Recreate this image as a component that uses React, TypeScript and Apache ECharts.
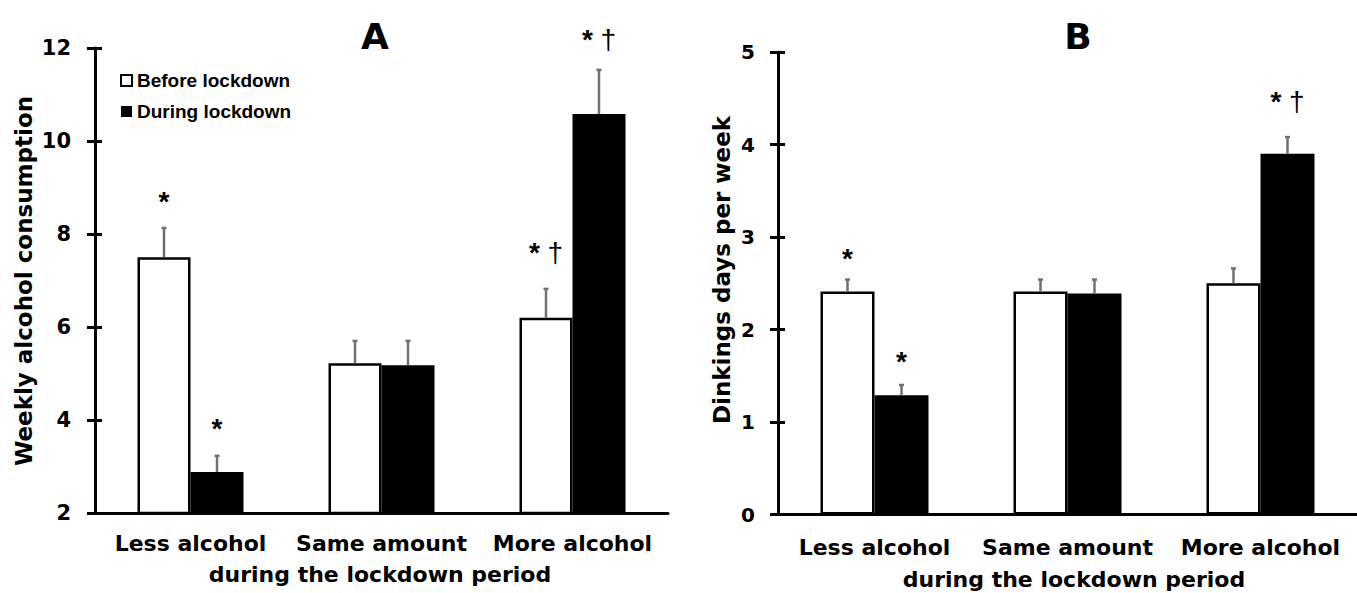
import React, { useEffect, useRef } from 'react';
import * as echarts from 'echarts';

const categories = ['Less alcohol', 'Same amount', 'More alcohol'];
const seriesNames = ['Before lockdown', 'During lockdown'];

// Panel A: weekly alcohol consumption
const weeklyBefore = [7.5, 5.22, 6.2];
const weeklyDuring = [2.88, 5.18, 10.58];
const weeklyBeforeErrTop = [8.13, 5.7, 6.82];
const weeklyDuringErrTop = [3.23, 5.7, 11.53];
const weeklyMin = 2;
const weeklyMax = 12;
const weeklyStep = 2;
// significance marks: [category index, series (0 before / 1 during), value at text baseline, text]
const weeklyMarks: [number, number, number, string][] = [
  [0, 0, 8.49, '*'],
  [0, 1, 3.61, '*'],
  [2, 0, 7.4, '*†'],
  [2, 1, 11.98, '*†'],
];

// Panel B: drinking days per week
const daysBefore = [2.41, 2.41, 2.5];
const daysDuring = [1.29, 2.39, 3.9];
const daysBeforeErrTop = [2.54, 2.54, 2.66];
const daysDuringErrTop = [1.4, 2.54, 4.08];
const daysMin = 0;
const daysMax = 5;
const daysStep = 1;
const daysMarks: [number, number, number, string][] = [
  [0, 0, 2.66, '*'],
  [0, 1, 1.55, '*'],
  [2, 1, 4.36, '*†'],
];

const FONT = 'DejaVu Sans';
const ARIAL = 'Liberation Sans';

function errorSeries(axis: number, values: number[], tops: number[], side: number, half: number) {
  return {
    type: 'custom',
    xAxisIndex: axis,
    yAxisIndex: axis * 2,
    z: 5,
    silent: true,
    data: values.map((v, i) => [i, v, tops[i]]),
    renderItem: (params: any, api: any) => {
      const base = api.coord([api.value(0), api.value(1)]);
      const top = api.coord([api.value(0), api.value(2)]);
      const x = base[0] + side * half;
      const st = { stroke: '#707070', lineWidth: 2.5 };
      return {
        type: 'group',
        children: [
          { type: 'line', shape: { x1: x, y1: base[1], x2: x, y2: top[1] }, style: st },
          { type: 'line', shape: { x1: x - 2.5, y1: top[1], x2: x + 2.5, y2: top[1] }, style: st },
        ],
      };
    },
  };
}

function markSeries(axis: number, marks: [number, number, number, string][], half: number) {
  const fs = 28;
  return {
    type: 'custom',
    xAxisIndex: axis,
    yAxisIndex: axis * 2,
    z: 6,
    silent: true,
    clip: false,
    data: marks.map((m) => [m[0], m[2], m[1]]),
    renderItem: (params: any, api: any) => {
      const p = api.coord([api.value(0), api.value(1)]);
      const side = api.value(2) === 0 ? -1 : 1;
      const m = marks[params.dataIndex];
      const parts = m[3].split('');
      const text = parts.map((c) => (c === '*' ? '{s|*}' : ' {d|' + c + '}')).join('');
      return {
        type: 'text',
        x: p[0] + side * half,
        y: p[1] - 0.35 * fs,
        style: {
          text,
          fontFamily: ARIAL,
          fontSize: fs,
          fill: '#000',
          align: 'center',
          verticalAlign: 'middle',
          rich: {
            s: { fontFamily: ARIAL, fontSize: fs, fontWeight: 'bold', fill: '#000' },
            d: { fontFamily: ARIAL, fontSize: fs, fontWeight: 'normal', fill: '#000' },
          },
        },
      };
    },
  };
}

function valueAxes(grid: number, min: number, max: number, step: number, fontSize: number, margin: number) {
  return [
    {
      type: 'value',
      gridIndex: grid,
      position: 'left',
      min,
      max,
      interval: step,
      axisLine: { show: true, lineStyle: { color: '#000', width: 3 } },
      axisTick: { show: true, length: 8, lineStyle: { color: '#000', width: 3 } },
      axisLabel: { margin, fontFamily: FONT, fontWeight: 'bold', fontSize, color: '#000' },
      splitLine: { show: false },
    },
    {
      type: 'value',
      gridIndex: grid,
      position: 'left',
      min,
      max,
      interval: step,
      axisLine: { show: false },
      axisTick: { show: true, inside: true, length: 7, lineStyle: { color: '#000', width: 3 } },
      axisLabel: { show: false },
      splitLine: { show: false },
    },
  ];
}

function catAxis(grid: number, margin: number) {
  return {
    type: 'category',
    gridIndex: grid,
    data: categories,
    axisLine: { show: true, lineStyle: { color: '#000', width: 3 } },
    axisTick: { show: false },
    axisLabel: { margin, fontFamily: FONT, fontWeight: 'bold', fontSize: 22, color: '#000', interval: 0 },
  };
}

function barSeries(axis: number, name: string, data: number[], dark: boolean, width: number) {
  return {
    type: 'bar',
    name,
    xAxisIndex: axis,
    yAxisIndex: axis * 2,
    data,
    barWidth: width,
    barGap: '0%',
    z: 2,
    itemStyle: dark
      ? { color: '#000', borderColor: '#000', borderWidth: 0 }
      : { color: '#fff', borderColor: '#000', borderWidth: 2.5 },
  };
}

function bigText(text: string, x: number, y: number, size: number, rotation = 0) {
  return {
    type: 'text',
    x,
    y,
    rotation,
    style: {
      text,
      fontFamily: FONT,
      fontWeight: 'bold',
      fontSize: size,
      fill: '#000',
      align: 'center',
      verticalAlign: 'middle',
    },
  };
}

export default function App() {
  const ref = useRef<HTMLDivElement>(null);
  useEffect(() => {
    if (!ref.current) return;
    const chart = echarts.init(ref.current, undefined, { renderer: 'svg' });
    const wA = 53;
    const wB = 54;
    chart.setOption({
      animation: false,
      backgroundColor: '#fff',
      grid: [
        { left: 95, top: 48, width: 573, height: 465 },
        { left: 778, top: 52, width: 590, height: 462.5 },
      ],
      xAxis: [catAxis(0, 19), catAxis(1, 22)],
      yAxis: [
        ...valueAxes(0, weeklyMin, weeklyMax, weeklyStep, 21, 24),
        ...valueAxes(1, daysMin, daysMax, daysStep, 20, 23),
      ],
      legend: {
        data: seriesNames.map((n) => ({ name: n, icon: 'rect' })),
        left: 115,
        top: 66,
        orient: 'vertical',
        itemWidth: 11,
        itemHeight: 11,
        itemGap: 12,
        selectedMode: false,
        textStyle: { fontFamily: ARIAL, fontWeight: 'bold', fontSize: 19, color: '#000' },
      },
      graphic: [
        bigText('A', 375, 36, 36),
        bigText('B', 1078, 36, 36),
        bigText('Weekly alcohol consumption', 24, 281, 23, Math.PI / 2),
        bigText('Dinkings days per week', 722, 270, 23, Math.PI / 2),
        bigText('during the lockdown period', 380, 574, 22),
        bigText('during the lockdown period', 1074, 579, 22),
      ],
      series: [
        barSeries(0, seriesNames[0], weeklyBefore, false, wA),
        barSeries(0, seriesNames[1], weeklyDuring, true, wA),
        errorSeries(0, weeklyBefore, weeklyBeforeErrTop, -1, wA / 2),
        errorSeries(0, weeklyDuring, weeklyDuringErrTop, 1, wA / 2),
        markSeries(0, weeklyMarks, wA / 2),
        barSeries(1, seriesNames[0], daysBefore, false, wB),
        barSeries(1, seriesNames[1], daysDuring, true, wB),
        errorSeries(1, daysBefore, daysBeforeErrTop, -1, wB / 2),
        errorSeries(1, daysDuring, daysDuringErrTop, 1, wB / 2),
        markSeries(1, daysMarks, wB / 2),
      ],
    });
    return () => chart.dispose();
  }, []);
  return (
    <div
      ref={ref}
      style={{ position: 'absolute', left: 0, top: 0, width: 1357, height: 593, background: '#fff' }}
    />
  );
}
